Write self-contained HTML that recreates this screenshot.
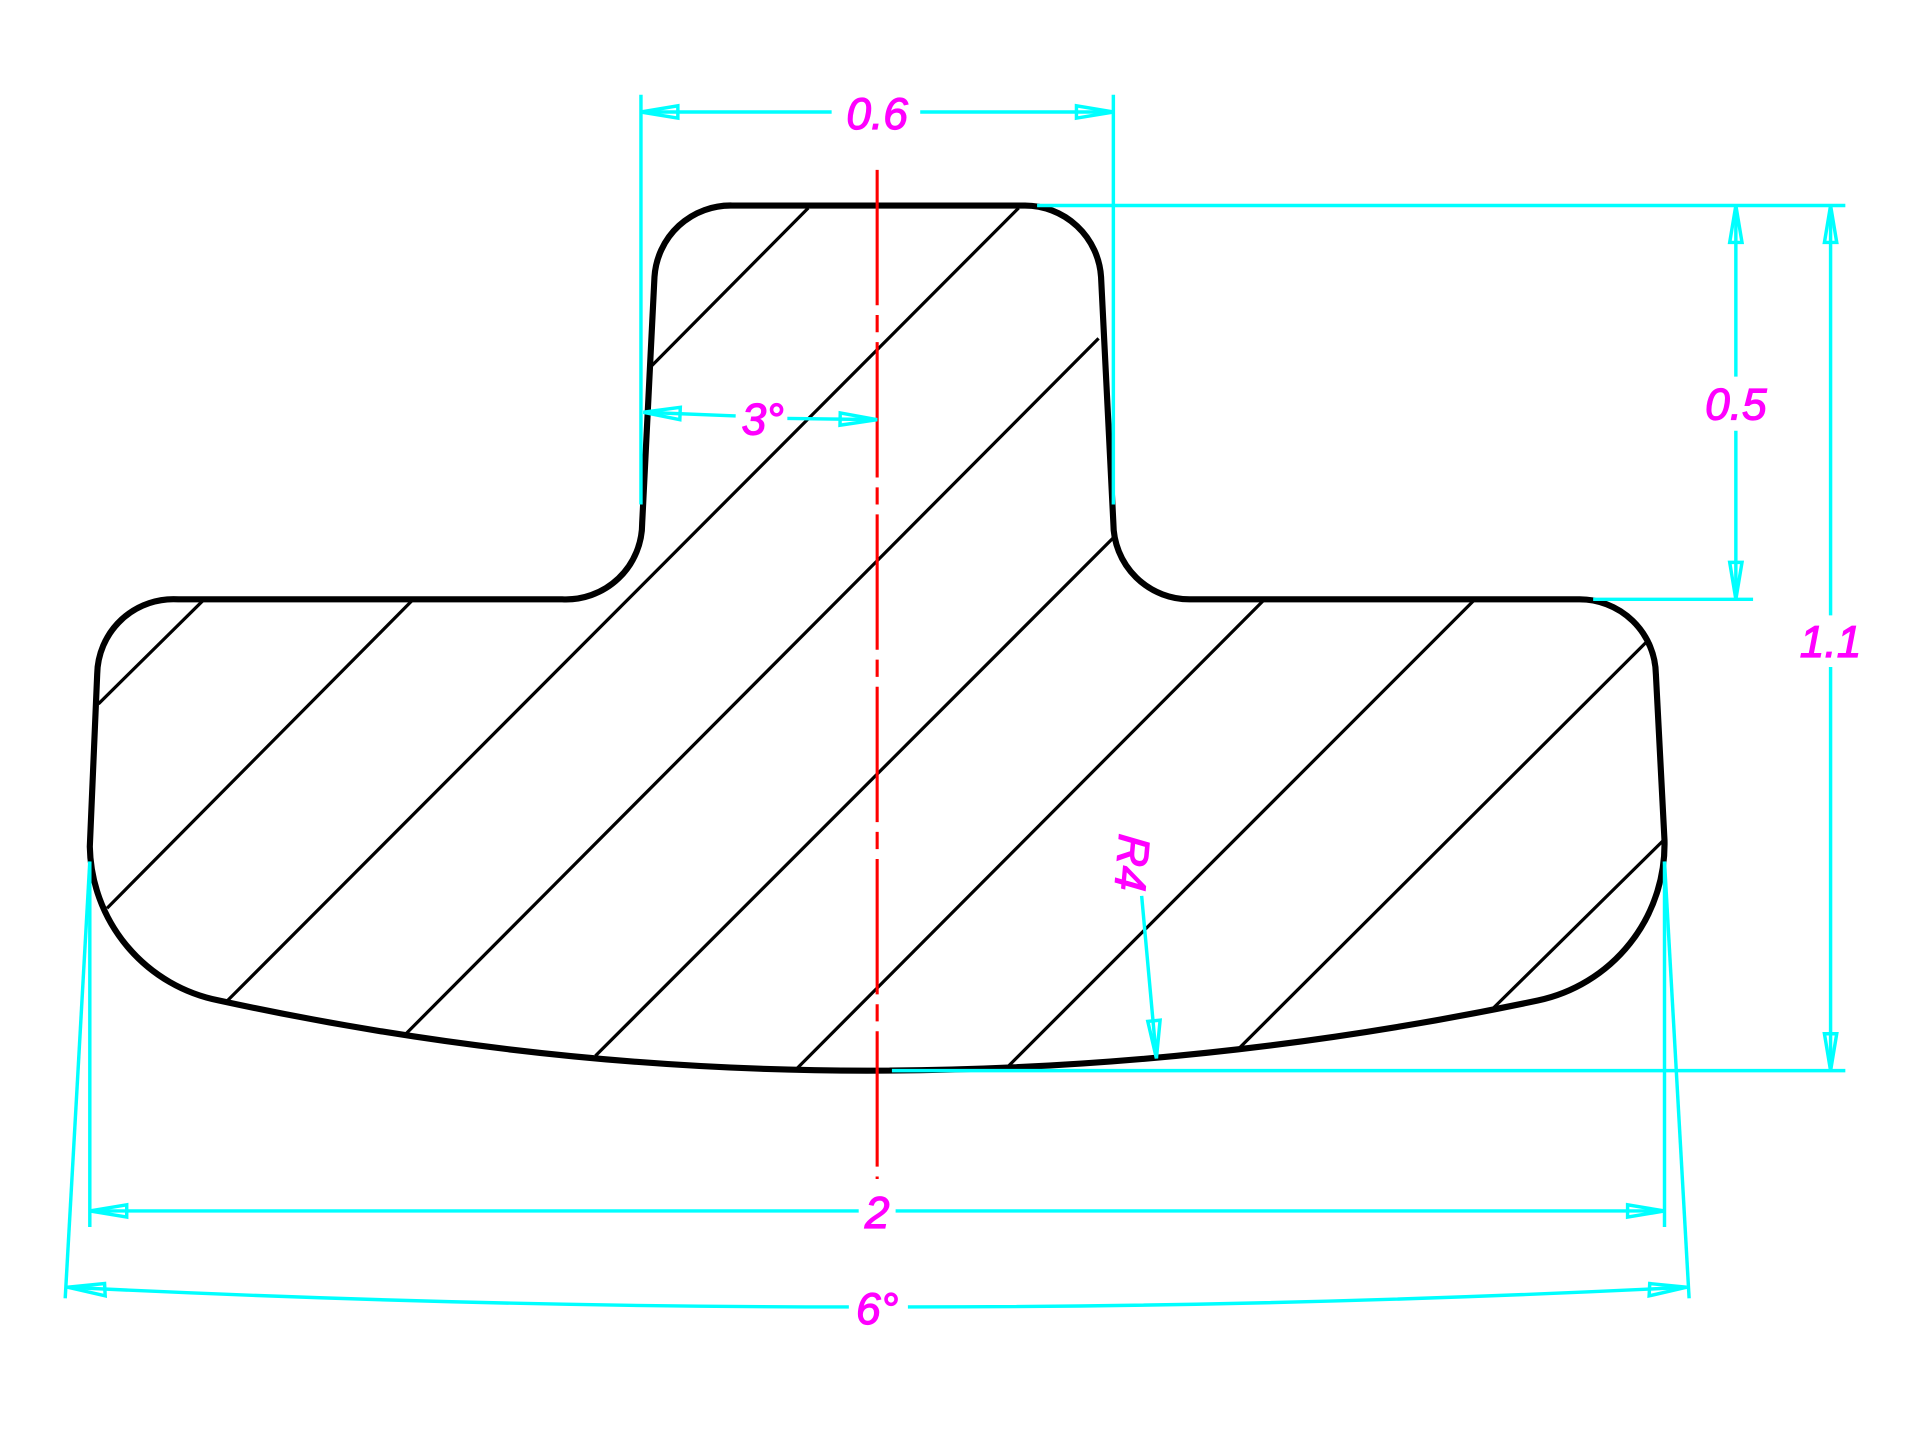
<!DOCTYPE html>
<html><head><meta charset="utf-8"><style>html,body{margin:0;padding:0;background:#fff}svg{display:block}</style></head>
<body>
<svg width="1929" height="1446" viewBox="0 0 1568 1175" preserveAspectRatio="none" xmlns="http://www.w3.org/2000/svg">
<rect width="1568" height="1175" fill="#fff"/>
<path d="M595,167 L833,167 A62,62 0 0 1 895,225 L905,425 A62,62 0 0 0 968,487 L1283,487 A62,62 0 0 1 1346,548 L1353,683 A130,130 0 0 1 1250,813 Q980,870 705,870 Q440,870 178,813 A130,130 0 0 1 73,688 L79,548 A62,62 0 0 1 145,487 L457,487 A62,62 0 0 0 522,425 L532,225 A62,62 0 0 1 595,167 Z" fill="none" stroke="#000" stroke-width="5" stroke-linejoin="round"/>
<g stroke="#000" stroke-width="2.6">
<line x1="657" y1="169" x2="530" y2="297"/>
<line x1="828" y1="169" x2="185" y2="813"/>
<line x1="893" y1="275" x2="330" y2="840"/>
<line x1="905" y1="437" x2="484" y2="858"/>
<line x1="1027" y1="488" x2="648" y2="868"/>
<line x1="1198" y1="488" x2="820" y2="866"/>
<line x1="1338" y1="522" x2="1007" y2="852"/>
<line x1="1352" y1="683" x2="1213" y2="820"/>
<line x1="335" y1="488" x2="87" y2="738"/>
<line x1="165" y1="488" x2="80" y2="572"/>
</g>
<line x1="713" y1="138" x2="713" y2="958" stroke="#ff0000" stroke-width="2.5" stroke-dasharray="110 8 14 8"/>
<g stroke="#00ffff" stroke-width="2.8" fill="none">
<line x1="521" y1="77" x2="521" y2="410"/>
<line x1="905" y1="77" x2="905" y2="410"/>
<line x1="521" y1="91" x2="676" y2="91"/><line x1="748" y1="91" x2="905" y2="91"/>
<path d="M521,91 l30,-5 v10 z M905,91 l-30,-5 v10 z"/>
<line x1="843" y1="167" x2="1500" y2="167"/>
<line x1="1295" y1="487" x2="1425" y2="487"/>
<line x1="725" y1="870" x2="1500" y2="870"/>
<line x1="1411" y1="167" x2="1411" y2="306"/><line x1="1411" y1="350" x2="1411" y2="487"/>
<path d="M1411,167 l-5,30 h10 z M1411,487 l-5,-30 h10 z"/>
<line x1="1488" y1="167" x2="1488" y2="500"/><line x1="1488" y1="542" x2="1488" y2="870"/>
<path d="M1488,167 l-5,30 h10 z M1488,870 l-5,-30 h10 z"/>
<line x1="73" y1="700" x2="73" y2="997"/>
<line x1="1353" y1="700" x2="1353" y2="997"/>
<line x1="73" y1="984" x2="698" y2="984"/><line x1="728" y1="984" x2="1353" y2="984"/>
<path d="M73,984 l30,-5 v10 z M1353,984 l-30,-5 v10 z"/>
<line x1="73" y1="700" x2="53" y2="1055"/>
<line x1="1353" y1="700" x2="1373" y2="1055"/>
<path d="M55,1046 Q380,1062 690,1062 M738,1062 Q1050,1062 1371,1046"/>
<path d="M55,1046 l30,-3 l0.5,10 z M1371,1046 l-30,-3 l-0.5,10 z"/>
<line x1="523" y1="335" x2="598" y2="338"/><line x1="640" y1="340" x2="713" y2="341"/>
<path d="M523,335 l30,-4 l-0.4,10 z M713,341 l-30,-5.5 l-0.2,10 z"/>
<line x1="928" y1="728" x2="940" y2="860"/>
<path d="M940,860 l-7,-30 l10,-1 z"/>
</g>
<g fill="#ff00ff" stroke="#ff00ff" stroke-width="1" font-family="Liberation Sans, sans-serif" font-style="italic" font-size="36" text-anchor="middle">
<text x="713" y="105">0.6</text>
<text x="1411" y="341">0.5</text>
<text x="1488" y="534">1.1</text>
<text x="713" y="998">2</text>
<text x="713" y="1076">6°</text>
<text x="620" y="353">3°</text>
<text x="0" y="0" transform="translate(908,700) rotate(95)">R4</text>
</g>
</svg>
</body></html>
